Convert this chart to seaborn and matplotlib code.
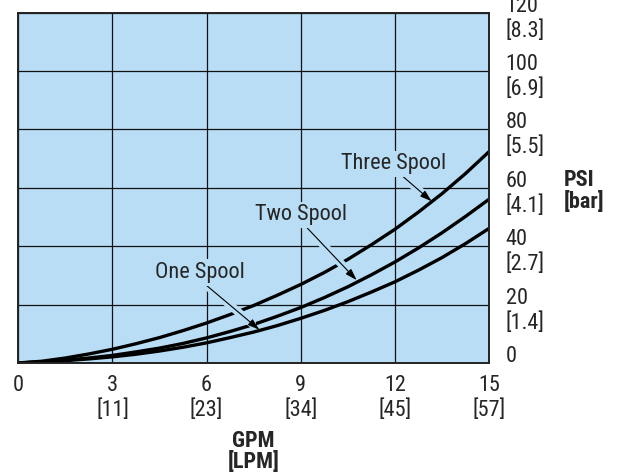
import os
import matplotlib
matplotlib.use("Agg")
import matplotlib.pyplot as plt
import matplotlib.transforms as mtransforms
from matplotlib import font_manager as fm
import pandas as pd
import seaborn as sns

# ---- data ----
gpm = [0, 0.75, 1.5, 2.25, 3, 3.75, 4.5, 5.25, 6, 6.75, 7.5,
       8.25, 9, 9.75, 10.5, 11.25, 12, 12.75, 13.5, 14.25, 15]
psi_three = [0, 0.6, 1.7, 3.1, 4.7, 6.6, 8.7, 11.1, 13.7, 16.6, 19.7,
             23.2, 26.9, 31.0, 35.5, 40.5, 45.8, 51.7, 58.0, 64.9, 72.4]
psi_two = [0, 0.4, 1.0, 1.7, 2.6, 3.8, 5.1, 6.7, 8.6, 10.8, 13.2,
           16.0, 19.0, 22.4, 26.1, 30.2, 34.6, 39.4, 44.6, 50.2, 56.1]
psi_one = [0, 0.3, 0.8, 1.4, 2.1, 3.0, 4.1, 5.4, 6.9, 8.7, 10.6,
           12.8, 15.3, 18.0, 21.0, 24.3, 27.8, 31.8, 36.1, 40.9, 46.1]

x_ticks = [0, 3, 6, 9, 12, 15]
x_labels = ["0", "3\n[11]", "6\n[23]", "9\n[34]", "12\n[45]", "15\n[57]"]
y_ticks = [0, 20, 40, 60, 80, 100, 120]
y_labels = ["0\n", "20\n[1.4]", "40\n[2.7]", "60\n[4.1]", "80\n[5.5]",
            "100\n[6.9]", "120\n[8.3]"]

# label text position, arrow start, arrow tip (data coords)
callouts = [
    ("One Spool", (5.78, 31.0), (5.85, 27.9), (7.68, 11.4)),
    ("Two Spool", (9.02, 50.7), (9.14, 47.0), (10.78, 28.4)),
    ("Three Spool", (11.97, 68.2), (12.19, 64.5), (13.17, 55.4)),
]

df = pd.concat([
    pd.DataFrame({"GPM": gpm, "PSI": psi_one, "valve": "One Spool"}),
    pd.DataFrame({"GPM": gpm, "PSI": psi_two, "valve": "Two Spool"}),
    pd.DataFrame({"GPM": gpm, "PSI": psi_three, "valve": "Three Spool"}),
])

BG = "#b8ddf5"


# the reference uses a condensed grotesque; take a narrow font if one is installed
def find_narrow(bold):
    best, best_rank = None, 99
    for f in fm.findSystemFonts():
        n = os.path.basename(f).lower().replace("-", "").replace("_", "")
        if "narrow" not in n and "condensed" not in n:
            continue
        if any(k in n for k in ["italic", "oblique", "mono", "serif", "light", "thin",
                                "black", "medium", "extra", "semibold", "display"]):
            continue
        if ("bold" in n) != bold:
            continue
        if "semi" in n:
            rank = 5
        elif "liberation" in n:
            rank = 0
        elif "roboto" in n:
            rank = 1
        elif "noto" in n:
            rank = 2
        elif "dejavu" in n:
            rank = 3
        else:
            rank = 4
        if rank < best_rank:
            best, best_rank = f, rank
    return best, best_rank


sns.set_style("white")
plt.rcParams["font.family"] = ["Liberation Sans", "DejaVu Sans"]

reg_file, rank = find_narrow(False)
bold_file, _ = find_narrow(True)
if reg_file is not None:
    FS = 16 if rank < 5 else 15
    fp = fm.FontProperties(fname=reg_file, size=FS)
else:
    FS = 14.5
    fp = fm.FontProperties(family="Liberation Sans", size=FS)
if bold_file is not None:
    fpb = fm.FontProperties(fname=bold_file, size=FS)
else:
    fpb = fm.FontProperties(family="Liberation Sans", weight="bold", size=FS)

fig = plt.figure(figsize=(6.23, 4.74), dpi=100)
ax = fig.add_axes([0.0294, 0.2342, 0.7556, 0.739])
ax.set_facecolor(BG)

sns.lineplot(data=df, x="GPM", y="PSI", hue="valve",
             palette={"One Spool": "black", "Two Spool": "black", "Three Spool": "black"},
             legend=False, linewidth=2.4, sort=False, ax=ax, zorder=2)
for ln in ax.get_lines():
    ln.set_solid_joinstyle("round")

ax.set_xlim(0, 15)
ax.set_ylim(0, 120)
ax.set_xticks(x_ticks)
ax.set_xticklabels(x_labels, fontproperties=fp, va="top")
ax.yaxis.tick_right()
ax.set_yticks(y_ticks)
ax.set_yticklabels(y_labels, fontproperties=fp, va="center", ha="left")
ax.tick_params(axis="x", length=0, pad=9)
ax.tick_params(axis="y", length=0, pad=12)

# nudge the two-line y labels a little below their ticks, as in the reference
shift = mtransforms.ScaledTranslation(0, -0.06, fig.dpi_scale_trans)
for lab in ax.get_yticklabels():
    lab.set_transform(lab.get_transform() + shift)

ax.grid(True, color="#111111", linewidth=0.9)
ax.set_axisbelow(True)
for s in ax.spines.values():
    s.set_color("#222222")
    s.set_linewidth(1.4)

ax.set_xlabel("GPM\n[LPM]", fontproperties=fpb, va="top", linespacing=0.95)
ax.xaxis.set_label_coords(0.5, -0.19)
ax.yaxis.set_label_position("right")
ax.set_ylabel("PSI\n[bar]", fontproperties=fpb, rotation=0, ha="left", va="center",
              linespacing=1.0)
ax.yaxis.set_label_coords(1.158, 0.49)

# callouts: a background-coloured band under each arrow cuts the lines it crosses
for name, txt, start, tip in callouts:
    ax.annotate("", xy=tip, xytext=start,
                arrowprops=dict(arrowstyle="-", color=BG, lw=6,
                                shrinkA=0, shrinkB=7), zorder=3)
    ax.annotate("", xy=tip, xytext=start,
                arrowprops=dict(arrowstyle="-|>,head_length=0.5,head_width=0.16",
                                color="black", lw=0.8, mutation_scale=14,
                                shrinkA=0, shrinkB=0), zorder=4)
    ax.text(txt[0], txt[1], name, fontproperties=fp, ha="center", va="center",
            zorder=4, bbox=dict(facecolor=BG, edgecolor="none", pad=2))

fig.savefig("out.png", dpi=100)
